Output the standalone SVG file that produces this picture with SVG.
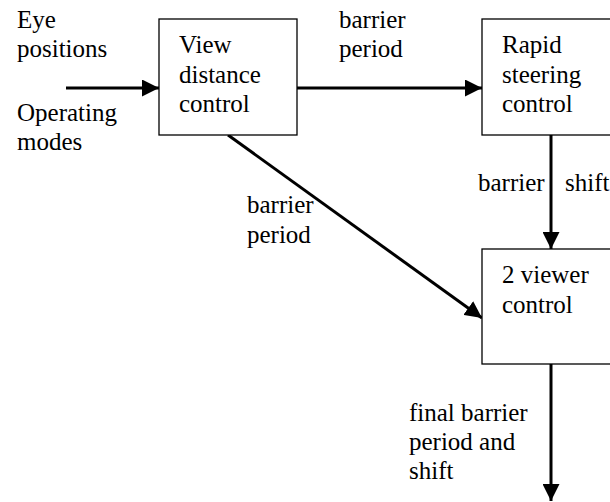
<svg xmlns="http://www.w3.org/2000/svg" width="610" height="502" viewBox="0 0 610 502">
<style>
.box{fill:#fff;stroke:#000;stroke-width:1.3}
.conn{stroke:#000;stroke-width:3;fill:none;marker-end:url(#ah)}
</style>
<defs>
<marker id="ah" markerUnits="userSpaceOnUse" markerWidth="17" markerHeight="17" refX="16" refY="8" orient="auto" viewBox="0 0 16 16">
<path d="M0,0 L16,8 L0,16 z" fill="#000"/>
</marker>
</defs>
<rect width="610" height="502" fill="#fff"/>
<g id="connectors">
<line class="conn" x1="66" y1="88" x2="159" y2="88"/>
<line class="conn" x1="297" y1="88" x2="482" y2="88"/>
<line class="conn" x1="551" y1="135" x2="551" y2="249"/>
<line class="conn" x1="228" y1="135" x2="482" y2="318"/>
<line class="conn" x1="551" y1="364" x2="551" y2="501"/>
</g>
<g font-family="Liberation Serif, serif" font-size="25" fill="#000">
<g id="inputs">
<text x="17" y="28">Eye</text>
<text x="17" y="57">positions</text>
<text x="17" y="121">Operating</text>
<text x="17" y="150">modes</text>
</g>
<g id="view-distance-control">
<rect class="box" x="159" y="19" width="138" height="116"/>
<text x="179" y="53">View</text>
<text x="179" y="83">distance</text>
<text x="179" y="112">control</text>
</g>
<g id="rapid-steering-control">
<rect class="box" x="482" y="19" width="140" height="116"/>
<text x="502" y="53">Rapid</text>
<text x="502" y="83">steering</text>
<text x="502" y="112">control</text>
</g>
<g id="two-viewer-control">
<rect class="box" x="482" y="249" width="140" height="115"/>
<text x="502" y="283">2 viewer</text>
<text x="502" y="313">control</text>
</g>
<g id="labels">
<text x="339" y="28">barrier</text>
<text x="339" y="57">period</text>
<text x="247" y="213">barrier</text>
<text x="247" y="243">period</text>
<text x="478" y="191">barrier</text>
<text x="565" y="191">shift</text>
<text x="409" y="421">final barrier</text>
<text x="409" y="450">period and</text>
<text x="409" y="479">shift</text>
</g>
</g>
</svg>
